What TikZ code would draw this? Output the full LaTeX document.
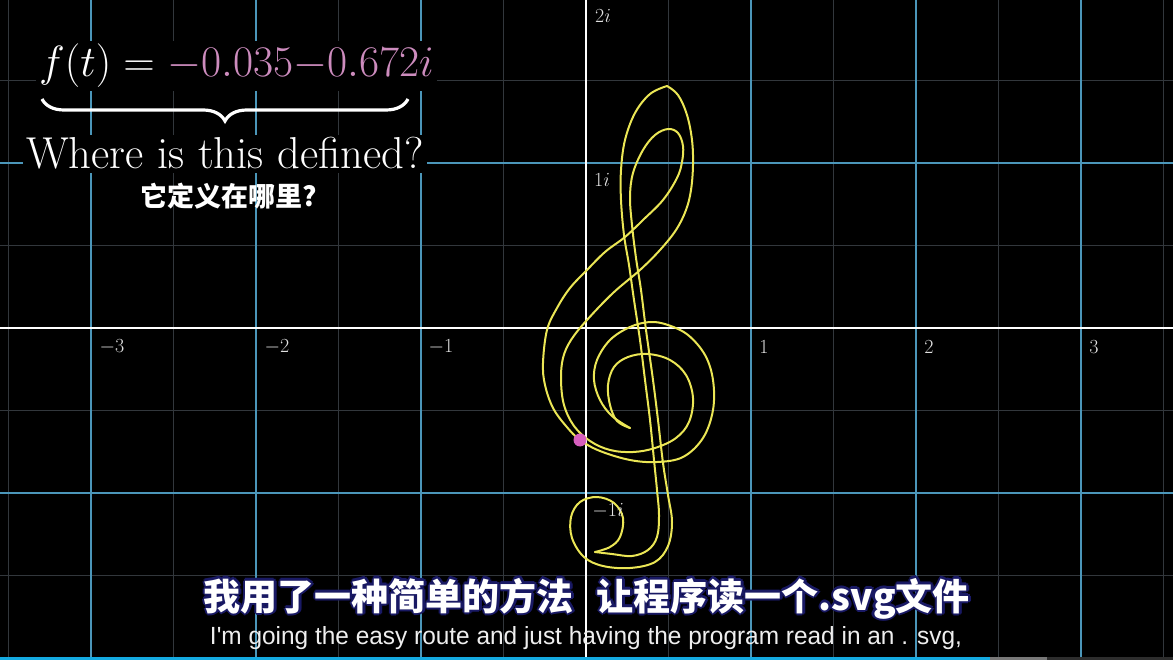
\RequirePackage{fix-cm}
\documentclass[tikz,border=0pt]{standalone}
\usepackage{fontspec}
\usepackage{graphicx}
\newfontfamily\cjk{Noto Sans CJK SC}
\newfontfamily\subfont{Liberation Sans}
\usetikzlibrary{decorations.pathreplacing}
\definecolor{gridblue}{RGB}{75,150,185}
\definecolor{gridgray}{RGB}{50,55,60}
\definecolor{clefyellow}{RGB}{235,230,85}
\definecolor{dotpink}{RGB}{215,95,190}
\definecolor{numpink}{RGB}{205,140,190}
\definecolor{navyline}{RGB}{25,25,100}
\definecolor{barcyan}{RGB}{20,170,225}
\definecolor{bargray}{RGB}{120,120,120}
\definecolor{bardark}{RGB}{45,45,45}
\definecolor{labelgray}{RGB}{225,225,225}
\definecolor{subwhite}{RGB}{238,238,238}
\tikzset{
  halfline/.style={gridgray, line width=1.3pt},
  unitline/.style={gridblue, line width=2pt},
  axisline/.style={white, line width=2.2pt},
  clef/.style={clefyellow, line width=2pt, line join=round, line cap=round},
  axlabel/.style={text=labelgray, inner sep=0pt, font=\fontsize{20}{24}\selectfont},
  cnsub/.style={inner sep=0pt, font=\cjk\bfseries\fontsize{37}{42}\selectfont},
}
\newcommand{\cnline}{我用了一种简单的方法\hspace{0.62em}让程序读一个.svg文件}
\begin{document}
\begin{tikzpicture}[x=1pt,y=-1pt]
\useasboundingbox (0,0) rectangle (1173,660);
\fill[black] (0,0) rectangle (1173,660);
% grid
\foreach \k in {-7,-5,-3,-1,1,3,5,7}{
  \draw[halfline] ({586+82.5*\k},0) -- ({586+82.5*\k},660);
}
\foreach \k in {-3,-1,1,3}{
  \draw[halfline] (0,{328+82.5*\k}) -- (1173,{328+82.5*\k});
}
\foreach \k in {-3,-2,-1,1,2,3}{
  \draw[unitline] ({586+165*\k},0) -- ({586+165*\k},660);
}
\foreach \k in {-2,-1,1,2}{
  \draw[unitline] (0,{328+165*\k}) -- (1173,{328+165*\k});
}
\draw[axisline] (586,0) -- (586,660);
\draw[axisline] (0,328) -- (1173,328);
% axis labels
\node[axlabel] (xm3) at (112,347) {$-3$};
\node[axlabel] (xm2) at (277,347) {$-2$};
\node[axlabel] (xm1) at (441,347) {$-1$};
\node[axlabel] (xp1) at (764,347) {$1$};
\node[axlabel] (xp2) at (929,347) {$2$};
\node[axlabel] (xp3) at (1094,347) {$3$};
\node[axlabel] (y2) at (603,16) {$2i$};
\node[axlabel] (y1) at (602,180) {$1i$};
% clef
\draw[clef] plot[smooth, tension=0.6] coordinates {(595,552) (610,547) (620,537) (623,518) (614,503) (597,497) (580,502) (571,517) (572,538) (584,557) (603,566) (630,568) (655,562) (668,546) (672,522) (668,495) (663,463) (658,420) (653,380) (646,330) (641,290) (636,258) (632,225) (630,197) (633,173) (643,150) (655,135) (668,129) (678,133) (683,146) (682,162) (677,178) (663,200) (643,220) (625,237) (605,252) (587,270) (570,288) (557,308) (547,330) (543,363) (545,385) (553,408) (566,426) (580,440) (600,451) (630,460) (657,462) (683,457) (703,438) (713,410) (713,380) (705,355) (688,335) (668,325) (650,322) (630,327) (610,340) (597,360) (594,380) (600,400) (612,416) (630,428)};
\draw[clef] plot[smooth, tension=0.6] coordinates {(630,428) (617,421) (610,405) (608,385) (614,367) (628,357) (648,354) (670,360) (686,375) (693,398) (689,422) (676,438) (655,448) (633,452) (610,450) (590,441) (574,426) (564,405) (561,380) (563,358) (571,340) (587,320) (613,293) (640,270) (660,250) (676,230) (686,210) (691,190) (693,165) (692,140) (687,115) (678,95) (667,86)};
\draw[clef] plot[smooth, tension=0.6] coordinates {(667,86) (650,94) (635,113) (625,140) (621,170) (621,200) (624,235) (629,265) (634,300) (640,340) (645,380) (650,420) (654,460) (657,490) (659,515) (657,537) (648,550) (632,556) (612,554) (595,552)};
\node[axlabel] (ym1) at (608,511) {$-1i$};
\node[circle, fill=dotpink, minimum size=13pt, inner sep=0pt] (dot) at (580,440) {};
% formula and labels
\node[anchor=base west, fill=black, inner sep=3pt, text=white, font=\fontsize{43.7}{50}\selectfont] (ft) at (36,77) {$f(t) = \textcolor{numpink}{-0.035{-}0.672i}$};
\coordinate (braceR) at (408,99);
\coordinate (braceL) at (42,99);
\draw[white, line width=3.2pt, decorate, decoration={brace, amplitude=22pt}] (braceR) -- (braceL);
\node[anchor=base, fill=black, inner sep=3pt, text=white, font=\fontsize{44.7}{50}\selectfont] (where) at (225,169) {Where is this defined?};
\node[anchor=base, text=white, inner sep=0pt, font=\cjk\bfseries\fontsize{27}{31}\selectfont] (where cn) at (229,207) {它定义在哪里?};
% subtitles
\foreach \dx/\dy [count=\n] in {2.2/0,-2.2/0,0/2.2,0/-2.2,1.6/1.6,-1.6/1.6,1.6/-1.6,-1.6/-1.6}{
  \node[cnsub, text=navyline, anchor=base, shift={(\dx,\dy)}] (cnshadow\n) at (587,610) {\cnline};
}
\node[cnsub, text=white, anchor=base] (cnsubtitle) at (587,610) {\cnline};
\node[anchor=base, text=subwhite, inner sep=0pt] (ensubtitle) at (586,644) {\resizebox{752pt}{18pt}{\subfont I'm going the easy route and just having the program read in an . svg,}};
% progress bar
\fill[bardark] (1047,656.5) rectangle (1173,660);
\fill[barcyan] (0,656.5) rectangle (990,660);
\fill[bargray] (990,656.5) rectangle (1047,660);
\end{tikzpicture}
\end{document}
